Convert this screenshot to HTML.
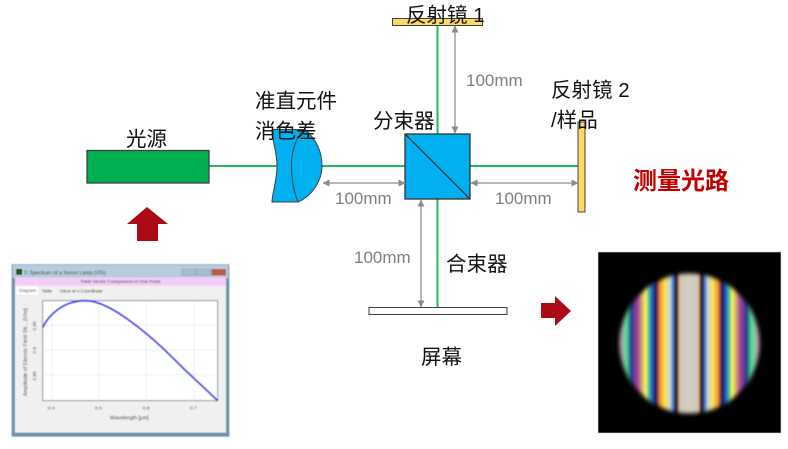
<!DOCTYPE html>
<html><head><meta charset="utf-8">
<style>
html,body{margin:0;padding:0;background:#fff;width:788px;height:449px;overflow:hidden}
svg{display:block}
.z{font-family:"Liberation Sans","Noto Sans CJK SC",sans-serif;font-size:20.5px;fill:#111}
.d{font-family:"Liberation Sans",sans-serif;font-size:17px;fill:#7f7f7f;word-spacing:-1px}
.w{font-family:"Liberation Sans",sans-serif;fill:#333}
</style></head>
<body>
<svg width="788" height="449" viewBox="0 0 788 449" xmlns="http://www.w3.org/2000/svg">
<defs>
<marker id="a" markerWidth="8" markerHeight="8" refX="6.500" refY="3.500" orient="auto-start-reverse" markerUnits="userSpaceOnUse"><path d="M0 0L7 3.500L0 7Z" fill="#8c8c8c"/></marker>
<filter id="b1" x="-5%" y="-5%" width="110%" height="110%"><feGaussianBlur stdDeviation="0.9"/></filter>
<filter id="b2" x="-10%" y="-10%" width="120%" height="120%"><feGaussianBlur stdDeviation="2.200"/></filter>
<filter id="b3" x="-2%" y="-2%" width="104%" height="104%"><feGaussianBlur stdDeviation="1.300"/></filter>
<linearGradient id="st" gradientUnits="userSpaceOnUse" x1="689" y1="0" x2="760" y2="0" spreadMethod="reflect">
<stop offset="0" stop-color="#d4cec2"/><stop offset=".125" stop-color="#d0c8b8"/>
<stop offset=".15" stop-color="#b87c20"/><stop offset=".178" stop-color="#101048"/>
<stop offset=".215" stop-color="#3868ac"/><stop offset=".265" stop-color="#c4d4dc"/>
<stop offset=".335" stop-color="#fce45c"/><stop offset=".405" stop-color="#f49a20"/>
<stop offset=".47" stop-color="#300c6c"/><stop offset=".53" stop-color="#1480c4"/>
<stop offset=".61" stop-color="#e8fa60"/><stop offset=".655" stop-color="#d8b860"/><stop offset=".72" stop-color="#ac4498"/>
<stop offset=".81" stop-color="#2c3c8c"/><stop offset=".88" stop-color="#4ce090"/>
<stop offset=".97" stop-color="#c8acb8"/><stop offset="1" stop-color="#c8acb8"/>
</linearGradient>
<mask id="ci" maskUnits="userSpaceOnUse" x="598" y="252" width="183" height="181"><circle cx="689.500" cy="343.500" r="70" fill="#fff" filter="url(#b2)"/></mask>
</defs>

<!-- beams -->
<g stroke="#1fb860" stroke-width="2" fill="none">
<line x1="209" y1="166" x2="405" y2="166"/>
<line x1="470" y1="166" x2="578" y2="166"/>
<line x1="437.500" y1="22" x2="437.500" y2="134"/>
<line x1="437.500" y1="199" x2="437.500" y2="307"/>
</g>

<!-- source -->
<rect x="87" y="150.500" width="122" height="32.500" fill="#00b050" stroke="#404040" stroke-width="1.300"/>

<!-- lens -->
<path d="M272 129.500H305C317 140 322 153 322 166C322 181 312 196 298 202H272C272 194 277 180 277 166C277 152 272 140 272 129.500Z" fill="#00b0f0" stroke="#404040" stroke-width="1"/>
<path d="M303 129.500C295 140 291.500 153 291.500 166C291.500 180 294 192 298 202" fill="none" stroke="#404040" stroke-width="1"/>

<!-- cube -->
<rect x="405" y="134" width="65" height="65" fill="#00b0f0" stroke="#333" stroke-width="1.300"/>
<line x1="405" y1="134" x2="470" y2="199" stroke="#222" stroke-width="1.200"/>

<!-- mirrors / screen -->
<rect x="392.500" y="18.500" width="90" height="7" fill="#ffd966" stroke="#404040" stroke-width="1"/>
<rect x="578" y="122" width="7" height="90" fill="#ffd966" stroke="#404040" stroke-width="1"/>
<rect x="369" y="307.500" width="138" height="7" fill="#fff" stroke="#404040" stroke-width="1"/>

<!-- dimension arrows -->
<g stroke="#a0a0a0" stroke-width="1.500" fill="none">
<line x1="455" y1="26" x2="455" y2="133" marker-start="url(#a)" marker-end="url(#a)"/>
<line x1="323" y1="183" x2="405" y2="183" marker-start="url(#a)" marker-end="url(#a)"/>
<line x1="471" y1="183" x2="578" y2="183" marker-start="url(#a)" marker-end="url(#a)"/>
<line x1="421" y1="200" x2="421" y2="307" marker-start="url(#a)" marker-end="url(#a)"/>
</g>

<!-- red arrows -->
<path d="M147 207L168 224H158V241H137V224H127Z" fill="#ac0a16"/>
<path d="M541 303H555V296L571 311L555 326V318H541Z" fill="#ac0a16"/>

<!-- labels -->
<text class="z" x="126" y="146">光源</text>
<text class="z" x="255" y="108">准直元件</text>
<text class="z" x="255" y="138">消色差</text>
<text class="z" x="373" y="128">分束器</text>
<text class="z" x="406" y="22">反射镜 1</text>
<text class="z" x="551" y="97">反射镜 2</text>
<text class="z" x="551" y="127">/样品</text>
<text class="z" x="446" y="271">合束器</text>
<text class="z" x="421" y="364">屏幕</text>
<text x="633" y="189" font-family="'Liberation Sans','Noto Sans CJK SC',sans-serif" font-size="24" font-weight="bold" fill="#c00000">测量光路</text>
<text class="d" x="335" y="204">100mm</text>
<text class="d" x="495" y="204">100mm</text>
<text class="d" x="466" y="86">100mm</text>
<text class="d" x="354" y="263">100mm</text>

<!-- interference image -->
<rect x="598" y="252" width="183" height="181" fill="#000" stroke="#ddd" stroke-width=".6"/>
<g mask="url(#ci)">
<rect x="610" y="262" width="160" height="164" fill="url(#st)" filter="url(#b1)"/>
</g>

<!-- software window (zoom-coordinates) -->
<g transform="translate(0,255) scale(.33333)" filter="url(#b3)">
<rect x="35" y="28" width="653" height="517" fill="#6f93a8"/>
<rect x="38" y="30" width="647" height="40" fill="#b8ccdc"/>
<rect x="45" y="68" width="633" height="465" fill="#f0f0f0"/>
<rect x="49" y="42" width="17" height="17" fill="#111"/><rect x="54" y="47" width="7" height="7" fill="#0a0"/>
<text class="w" x="72" y="58" font-size="15.500">3: Spectrum of a Xenon Lamp (VIS)</text>
<rect x="545" y="43" width="42" height="18" fill="#a8bccf" stroke="#6a7f92"/>
<rect x="590" y="43" width="42" height="18" fill="#a8bccf" stroke="#6a7f92"/>
<rect x="635" y="43" width="42" height="18" fill="#c0584a" stroke="#8a3a30"/>
<rect x="45" y="68" width="633" height="24" fill="#f4ccfa"/>
<text class="w" x="362" y="84" font-size="14.400" text-anchor="middle">Field Vector Component At One Point</text>
<rect x="50" y="94" width="64" height="24" fill="#fff"/>
<text class="w" x="57" y="111" font-size="13.500">Diagram</text>
<text class="w" x="124" y="112" font-size="13.500">Table</text>
<text class="w" x="179" y="112" font-size="13.500">Value at x-Coordinate</text>
<rect x="128" y="137" width="525" height="300" fill="#fff" stroke="#777" stroke-width="2.500"/>
<g stroke="#ddd" stroke-width="1.500">
<line x1="156" y1="137" x2="156" y2="437"/><line x1="297" y1="137" x2="297" y2="437"/>
<line x1="438" y1="137" x2="438" y2="437"/><line x1="582" y1="137" x2="582" y2="437"/>
<line x1="128" y1="211" x2="653" y2="211"/><line x1="128" y1="285" x2="653" y2="285"/>
<line x1="128" y1="359" x2="653" y2="359"/>
</g>
<path d="M128 218C146 180 190 137 255 137C300 137 350 168 400 205C460 250 500 290 550 340C590 378 620 405 653 437" fill="none" stroke="#3030f0" stroke-width="5.500"/>
<text class="w" x="143" y="464" font-size="15">0.4</text>
<text class="w" x="285" y="464" font-size="15">0.5</text>
<text class="w" x="428" y="464" font-size="15">0.6</text>
<text class="w" x="570" y="464" font-size="15">0.7</text>
<text class="w" x="388" y="494" font-size="15.500" text-anchor="middle">Wavelength [μm]</text>
<text class="w" font-size="16" transform="translate(81,292) rotate(-90)" text-anchor="middle">Amplitude of Electric Field Str... [V/m]</text>
<text class="w" font-size="14" transform="translate(108,226) rotate(-90)">0.95</text>
<text class="w" font-size="14" transform="translate(108,295) rotate(-90)">0.9</text>
<text class="w" font-size="14" transform="translate(108,376) rotate(-90)">0.85</text>
</g>
</svg>
</body></html>
